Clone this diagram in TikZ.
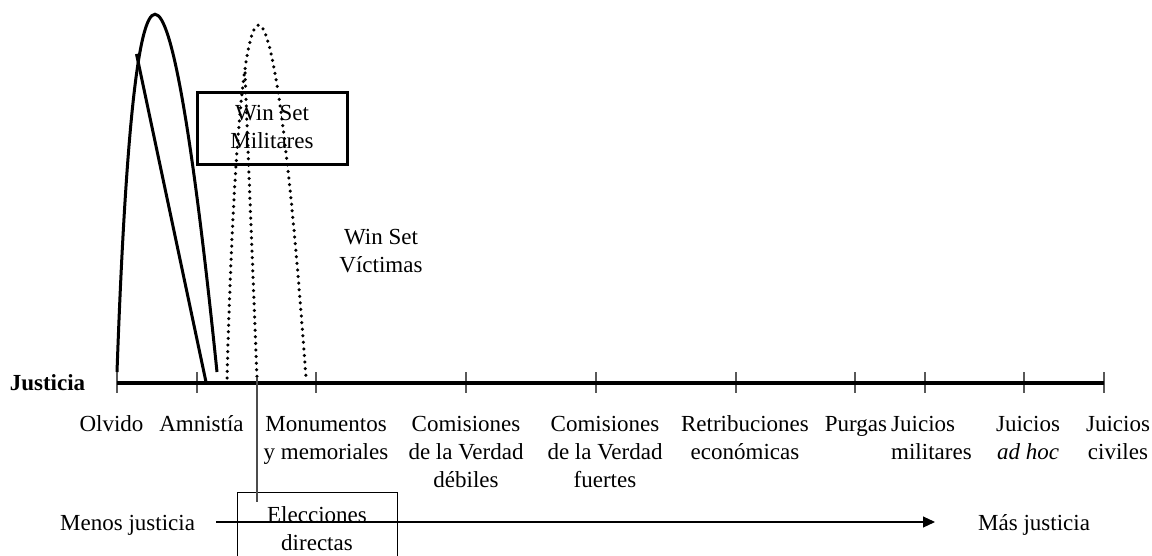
\documentclass[tikz,border=0pt]{standalone}
\usepackage{fontspec}
\setmainfont{Liberation Serif}
\usetikzlibrary{arrows.meta}
\newcommand\mlc[1]{\begin{tabular}[t]{@{}c@{}}#1\end{tabular}}
\newcommand\mll[1]{\begin{tabular}[t]{@{}l@{}}#1\end{tabular}}
\begin{document}
\begin{tikzpicture}[x=1pt,y=-1pt,
  every node/.style={font=\fontsize{23}{28}\selectfont, inner sep=0pt},
  lbl/.style={anchor=base},
  endlbl/.style={text height=18pt, text depth=2pt},
  tickmark/.style={draw=black!65, line width=1.3pt},
  axisline/.style={line width=3.6pt},
  solidcurve/.style={line width=3pt},
  dotcurve/.style={line width=3.5pt, dash pattern=on 0pt off 6.6pt, line cap=round},
  winbox/.style={draw, line width=3pt, minimum width=150pt, minimum height=72pt},
  elbox/.style={draw, line width=0.9pt, minimum width=160pt, inner ysep=10.4pt, anchor=north},
  grayline/.style={draw=black!70, line width=1.4pt},
  arr/.style={line width=1.1pt, -{Triangle[length=12pt,width=11pt]}}
]
\useasboundingbox (0,0) rectangle (1152,556);
\clip (0,0) rectangle (1152,556);

% ticks and axis
\foreach \x in {117,197,316,466,596,736,855,925,1024,1104}
  \draw[tickmark] (\x,372) -- (\x,393);
\coordinate (axL) at (117,383);
\coordinate (axR) at (1104,383);
\draw[axisline] (axL) -- (axR);

\node[lbl, font=\fontsize{23}{28}\selectfont\bfseries] (justicia) at (47.5,390) {Justicia};

% labels
\node[lbl] (olvido) at (111.5,431) {Olvido};
\node[lbl] (amnistia) at (201.5,431) {Amnistía};
\node[lbl] (monum) at (326,431) {\mlc{Monumentos\\y memoriales}};
\node[lbl] (cvd) at (466,431) {\mlc{Comisiones\\de la Verdad\\débiles}};
\node[lbl] (cvf) at (605,431) {\mlc{Comisiones\\de la Verdad\\fuertes}};
\node[lbl] (retrib) at (745,431) {\mlc{Retribuciones\\económicas}};
\node[lbl] (purgas) at (856,431) {Purgas};
\node[anchor=base west] (jmil) at (891,431) {\mll{Juicios\\militares}};
\node[lbl] (jadhoc) at (1028,431) {\mlc{Juicios\\\textit{ad hoc}}};
\node[lbl] (jciv) at (1118,431) {\mlc{Juicios\\civiles}};

% win set boxes / texts
\node[winbox] (wsm) at (272,129) {\mlc{Win Set\\Militares}};
\node[lbl] (wsv) at (381,245) {\mlc{Win Set\\Víctimas}};

% solid curves
\coordinate (pa) at (117,372);
\coordinate (pb) at (217,372);
\draw[solidcurve] (pa) .. controls (134,-105) and (168,-105) .. (pb);
\coordinate (la) at (136.5,54);
\coordinate (lb) at (206,382);
\draw[solidcurve] (la) -- (lb);

% dotted curves
\coordinate (da) at (227,378);
\coordinate (db) at (306,378);
\draw[dotcurve] (da) .. controls (240,-92.7) and (272,-92.7) .. (db);
\coordinate (dtop) at (245,73);
\coordinate (dend) at (257,378);
\draw[dotcurve] (dtop) -- (dend);

% elecciones box
\node[elbox] (elec) at (317,492) {\mlc{Elecciones\\directas}};
\coordinate (elend) at (257,502);
\draw[grayline] (dend) -- (elend);

% bottom arrow
\node[endlbl, anchor=west] (menos) at (60,522) {Menos justicia};
\node[endlbl, anchor=west] (mas) at (978,522) {Más justicia};
\draw[arr, shorten <=21pt, shorten >=43pt] (menos.east) -- (mas.west);
\end{tikzpicture}
\end{document}
